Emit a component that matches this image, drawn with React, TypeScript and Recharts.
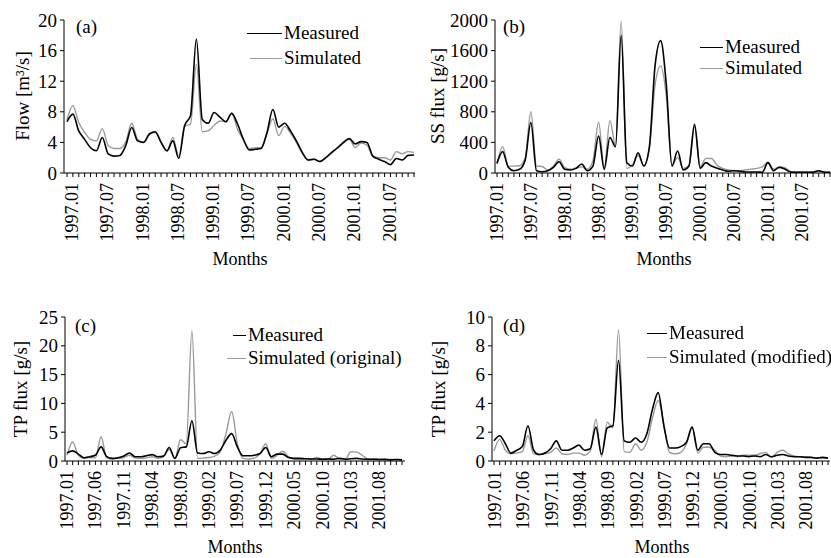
import { LineChart, Line, XAxis, YAxis } from 'recharts'

const months: string[] = []
for (let y = 1997; y <= 2001; y++) {
  for (let m = 1; m <= 12; m++) months.push(`${y}.${String(m).padStart(2, '0')}`)
}

const flowMeasured = [
  6.7, 7.7, 5.5, 4.4, 3.3, 2.9, 4.65, 2.5, 2.2, 2.3,
  3.6, 5.95, 4.2, 4.0, 5.1, 5.4, 4.0, 2.9, 4.2, 1.9,
  6.2, 7.5, 17.5, 7.0, 6.5, 7.9, 7.3, 6.7, 7.8, 6.4,
  4.4, 3.0, 3.1, 3.2, 5.3, 8.3, 6.0, 6.5, 5.5, 4.2,
  2.7, 1.7, 1.8, 1.5, 2.0, 2.7, 3.3, 4.0, 4.5, 3.8,
  4.1, 4.0, 2.2, 1.8, 1.5, 1.1, 1.9, 1.7, 2.3, 2.35,
]
const flowSimulated = [
  7.0, 8.8, 6.6, 5.3, 4.4, 4.2, 5.8, 3.6, 3.2, 3.2,
  4.1, 6.5, 4.4, 4.0, 5.0, 5.3, 4.0, 2.9, 4.65, 2.2,
  6.1, 6.4, 14.2, 5.4, 5.5, 6.2, 6.8, 6.7, 7.8, 5.7,
  4.35, 3.2, 3.3, 3.35, 5.1, 7.1, 4.9, 6.1, 5.2, 4.0,
  2.6, 1.7, 1.8, 1.5, 2.0, 2.6, 3.3, 3.9, 4.4, 3.35,
  3.9, 3.65, 2.2, 2.0, 2.0, 1.7, 2.8, 2.5, 2.8, 2.7,
]
const ssMeasured = [
  126, 280, 74, 30, 48, 170, 660, 30, 17, 30,
  74, 148, 48, 39, 61, 117, 30, 90, 483, 48,
  465, 343, 1800, 135, 91, 265, 91, 343, 1400, 1730,
  1150, 90, 287, 39, 91, 635, 61, 135, 91, 61,
  39, 22, 30, 22, 13, 13, 13, 9, 135, 30,
  74, 52, 13, 10, 10, 10, 10, 30, 10, 10,
]
const ssSimulated = [
  117, 345, 90, 90, 95, 200, 800, 90, 85, 40,
  90, 180, 70, 50, 65, 80, 50, 160, 665, 60,
  685, 365, 1980, 60, 110, 230, 100, 330, 1150, 1400,
  1000, 100, 204, 60, 90, 604, 80, 191, 190, 100,
  60, 40, 30, 30, 40, 50, 60, 80, 140, 50,
  80, 70, 20, 15, 15, 15, 15, 30, 15, 10,
]
const tpMeasured = [
  1.4, 1.75, 1.2, 0.55, 0.75, 1.0, 2.45, 0.75, 0.45, 0.55,
  0.85, 1.4, 0.75, 0.75, 0.9, 1.1, 0.75, 0.85, 2.35, 0.45,
  2.3, 2.45, 7.0, 1.4, 1.3, 1.6, 1.3, 1.9, 3.6, 4.75,
  2.45, 0.9, 0.9, 1.0, 1.3, 2.35, 0.75, 1.2, 1.2, 0.6,
  0.45, 0.45, 0.4, 0.35, 0.35, 0.3, 0.35, 0.3, 0.45, 0.3,
  0.4, 0.45, 0.35, 0.3, 0.3, 0.25, 0.25, 0.2, 0.25, 0.2,
]
const tpSimOriginal = [
  1.0, 3.3, 1.0, 0.45, 0.6, 0.55, 4.2, 0.55, 0.35, 0.45,
  0.6, 1.0, 0.55, 0.45, 0.55, 0.75, 0.45, 0.75, 2.0, 0.45,
  3.7, 3.0, 22.6, 0.45, 0.5, 0.6, 0.85, 1.6, 4.75, 8.6,
  3.0, 0.45, 0.35, 0.5, 1.3, 3.0, 0.45, 1.0, 1.7, 0.75,
  0.35, 0.3, 0.35, 0.3, 0.6, 0.3, 0.35, 1.0, 0.4, 0.35,
  1.6, 1.55, 1.0, 0.35, 0.3, 0.3, 0.4, 0.25, 0.25, 0.2,
]
const tpSimModified = [
  0.7, 1.5, 0.75, 0.5, 0.55, 0.65, 1.75, 0.5, 0.45, 0.5,
  0.6, 0.9, 0.5, 0.45, 0.55, 0.55, 0.4, 0.7, 2.9, 0.3,
  2.7, 2.3, 9.1, 0.65, 0.6, 1.2, 0.75, 1.3, 3.0, 4.2,
  2.6, 0.6, 0.5, 0.6, 1.2, 2.35, 0.55, 0.95, 0.95, 0.75,
  0.35, 0.3, 0.35, 0.3, 0.4, 0.4, 0.4, 0.5, 0.6, 0.25,
  0.6, 0.75, 0.5, 0.35, 0.3, 0.3, 0.25, 0.2, 0.2, 0.2,
]

const flowTicks = [0, 4, 8, 12, 16, 20]
const ssTicks = [0, 400, 800, 1200, 1600, 2000]
const tpTicks = [0, 5, 10, 15, 20, 25]
const tpModTicks = [0, 2, 4, 6, 8, 10]

const FONT = '"Liberation Serif", "Times New Roman", serif'
const GRAY = '#9a9a9a'
const serif = { fontFamily: FONT }

// only every 5th/6th month gets a label, but every month keeps its tick line
function MonthTick({ x, y, payload, index, step, shift }: any) {
  const i = index ?? payload?.index ?? 0
  if (i % step !== 0) return <g />
  return (
    <g transform={`translate(${x + shift},${y})`}>
      <text transform="rotate(-90)" textAnchor="end" dominantBaseline="central"
        fontSize={18} style={serif} fill="#000">
        {payload.value}
      </text>
    </g>
  )
}

function ValueTick({ x, y, payload }: any) {
  return (
    <text x={x} y={y} textAnchor="end" dominantBaseline="central" fontSize={19} style={serif} fill="#000">
      {payload.value}
    </text>
  )
}

function VTitle({ cx, cy, text }: any) {
  return (
    <text x={cx} y={cy} transform={`rotate(-90 ${cx} ${cy})`} textAnchor="middle"
      dominantBaseline="central" fontSize={19} style={serif} fill="#000">
      {text}
    </text>
  )
}

function HTitle({ cx, cy, text }: any) {
  return (
    <text x={cx} y={cy} textAnchor="middle" dominantBaseline="central"
      fontSize={18} style={serif} fill="#000">
      {text}
    </text>
  )
}

function LegendRow({ x1, x2, y, color, label }: any) {
  return (
    <div style={{ position: 'absolute', left: x1, top: y - 12, height: 24, display: 'flex', alignItems: 'center', whiteSpace: 'nowrap' }}>
      <span style={{ display: 'inline-block', width: x2 - x1, borderTop: `1.5px solid ${color}` }} />
      <span style={{ fontSize: 19, marginLeft: 2 }}>{label}</span>
    </div>
  )
}

type PanelProps = {
  left: number; top: number; width: number; height: number
  marginTop: number; marginRight: number; yWidth: number; xHeight: number
  pad: { left: number; right: number }
  measured: number[]; simulated: number[]
  ticks: number[]; step: number; shift: number
  tag: string; tagX: number; tagY: number
  yTitle: string; yTitleX: number; yTitleY: number
  xTitleX: number; xTitleY: number
  legend: { x1: number; x2: number; y: number; color: string; label: string }[]
}

function Panel(p: PanelProps) {
  const data = months.map((m, i) => ({ month: m, measured: p.measured[i], simulated: p.simulated[i] }))
  const max = p.ticks[p.ticks.length - 1]
  return (
    <div style={{ position: 'absolute', left: p.left, top: p.top, width: p.width, height: p.height }}>
      <LineChart width={p.width} height={p.height} data={data} style={serif}
        margin={{ top: p.marginTop, right: p.marginRight, bottom: 0, left: 0 }}>
        <XAxis dataKey="month" interval={0} height={p.xHeight} padding={p.pad}
          axisLine={{ stroke: '#000' }} tickLine={{ stroke: '#000' }} tickSize={4} tickMargin={6}
          tick={<MonthTick step={p.step} shift={p.shift} />}
          label={<HTitle cx={p.xTitleX} cy={p.xTitleY} text="Months" />} />
        <YAxis domain={[0, max]} ticks={p.ticks} width={p.yWidth} interval={0}
          axisLine={{ stroke: '#000' }} tickLine={{ stroke: '#000' }} tickSize={4} tickMargin={3}
          tick={<ValueTick />}
          label={<VTitle cx={p.yTitleX} cy={p.yTitleY} text={p.yTitle} />} />
        <Line dataKey="simulated" type="monotone" stroke={GRAY} strokeWidth={1.4} dot={false} isAnimationActive={false} />
        <Line dataKey="measured" type="monotone" stroke="#000" strokeWidth={1.6} dot={false} isAnimationActive={false} />
      </LineChart>
      <div style={{ position: 'absolute', left: p.tagX, top: p.tagY - 12, fontSize: 19, lineHeight: '24px' }}>{p.tag}</div>
      {p.legend.map((l) => <LegendRow key={l.label} {...l} />)}
    </div>
  )
}

export default function App() {
  return (
    <div style={{ position: 'fixed', left: 0, top: 0, width: 831, height: 558, background: '#fff', fontFamily: FONT, color: '#000' }}>
      <Panel left={0} top={0} width={420} height={290} marginTop={20} marginRight={5} yWidth={64} xHeight={117}
        pad={{ left: 3, right: 1 }} measured={flowMeasured} simulated={flowSimulated}
        ticks={flowTicks} step={6} shift={5}
        tag="(a)" tagX={76} tagY={27}
        yTitle="Flow [m³/s]" yTitleX={22} yTitleY={96} xTitleX={240} xTitleY={259}
        legend={[
          { x1: 247, x2: 282, y: 33, color: '#000', label: 'Measured' },
          { x1: 250, x2: 282, y: 58, color: GRAY, label: 'Simulated' },
        ]} />
      <Panel left={420} top={0} width={411} height={290} marginTop={20} marginRight={0} yWidth={75} xHeight={117}
        pad={{ left: 2, right: 1 }} measured={ssMeasured} simulated={ssSimulated}
        ticks={ssTicks} step={6} shift={0}
        tag="(b)" tagX={83} tagY={27}
        yTitle="SS flux [g/s]" yTitleX={17} yTitleY={96} xTitleX={244} xTitleY={259}
        legend={[
          { x1: 280, x2: 303, y: 47, color: '#000', label: 'Measured' },
          { x1: 280, x2: 303, y: 68, color: GRAY, label: 'Simulated' },
        ]} />
      <Panel left={0} top={290} width={420} height={268} marginTop={27} marginRight={15} yWidth={65} xHeight={97}
        pad={{ left: 2, right: 3 }} measured={tpMeasured} simulated={tpSimOriginal}
        ticks={tpTicks} step={5} shift={0}
        tag="(c)" tagX={75} tagY={36}
        yTitle="TP flux [g/s]" yTitleX={20} yTitleY={99} xTitleX={235} xTitleY={257}
        legend={[
          { x1: 233, x2: 246, y: 45, color: '#000', label: 'Measured' },
          { x1: 227, x2: 246, y: 68, color: GRAY, label: 'Simulated (original)' },
        ]} />
      <Panel left={420} top={290} width={411} height={268} marginTop={27} marginRight={1} yWidth={72} xHeight={97}
        pad={{ left: 2, right: 2 }} measured={tpMeasured} simulated={tpSimModified}
        ticks={tpModTicks} step={5} shift={1}
        tag="(d)" tagX={83} tagY={36}
        yTitle="TP flux [g/s]" yTitleX={18} yTitleY={99} xTitleX={242} xTitleY={257}
        legend={[
          { x1: 227, x2: 247, y: 43, color: '#000', label: 'Measured' },
          { x1: 227, x2: 247, y: 67, color: GRAY, label: 'Simulated (modified)' },
        ]} />
    </div>
  )
}
